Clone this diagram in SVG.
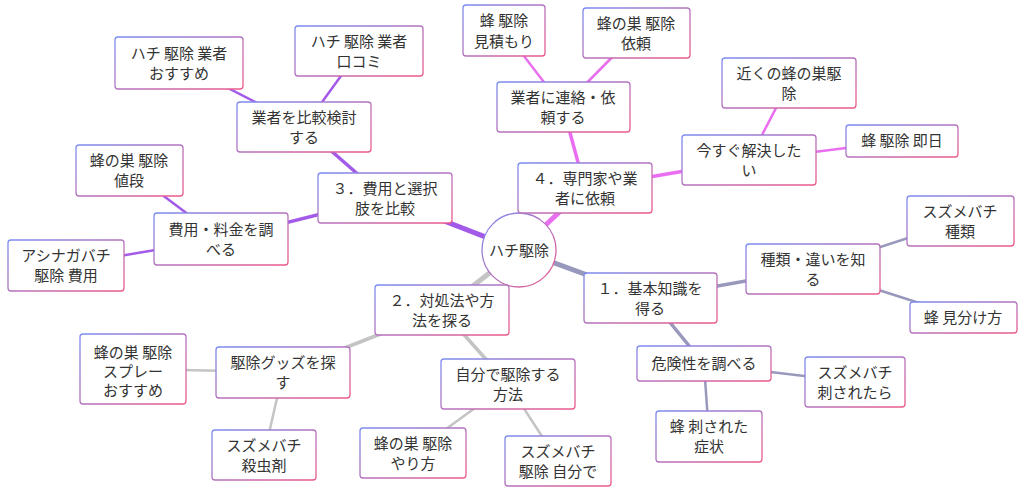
<svg xmlns="http://www.w3.org/2000/svg" width="1024" height="493" viewBox="0 0 1024 493">
<defs>
<linearGradient id="g" x1="0" y1="0" x2="1" y2="1"><stop offset="0" stop-color="#7b8cf0"/><stop offset="1" stop-color="#ec5a8c"/></linearGradient>
<style>
rect{fill:#fff;stroke:url(#g);stroke-width:1.3}
text{font-family:"Noto Sans CJK JP","Noto Sans",sans-serif;font-size:15px;fill:#333;text-anchor:middle}
.b4{stroke:#ea6ef0}.b3{stroke:#a35ae8}.b2{stroke:#c4c4c4}.b1{stroke:#9898bc}
.w1{stroke-width:5}.w2{stroke-width:3.5}.w3{stroke-width:2.5}
</style>
</defs>
<rect x="0" y="0" width="1024" height="493" style="fill:#fff;stroke:none"/>
<g id="connectors" fill="none">
<line class="b4 w1" x1="519" y1="250" x2="585" y2="188"/>
<line class="b4 w2" x1="585" y1="188" x2="563" y2="107"/>
<line class="b4 w3" x1="563" y1="107" x2="504" y2="30"/>
<line class="b4 w3" x1="563" y1="107" x2="636" y2="33"/>
<line class="b4 w2" x1="585" y1="188" x2="749" y2="160"/>
<line class="b4 w3" x1="749" y1="160" x2="789" y2="83"/>
<line class="b4 w3" x1="749" y1="160" x2="902" y2="141"/>
<line class="b3 w1" x1="519" y1="250" x2="385" y2="198"/>
<line class="b3 w2" x1="385" y1="198" x2="304" y2="127"/>
<line class="b3 w3" x1="304" y1="127" x2="179" y2="63"/>
<line class="b3 w3" x1="304" y1="127" x2="359" y2="51"/>
<line class="b3 w2" x1="385" y1="198" x2="221" y2="239"/>
<line class="b3 w3" x1="221" y1="239" x2="129" y2="170"/>
<line class="b3 w3" x1="221" y1="239" x2="66" y2="265"/>
<line class="b2 w1" x1="519" y1="250" x2="442" y2="310"/>
<line class="b2 w2" x1="442" y1="310" x2="283" y2="372"/>
<line class="b2 w3" x1="283" y1="372" x2="133" y2="369"/>
<line class="b2 w3" x1="283" y1="372" x2="264" y2="455"/>
<line class="b2 w2" x1="442" y1="310" x2="508" y2="384"/>
<line class="b2 w3" x1="508" y1="384" x2="413" y2="453"/>
<line class="b2 w3" x1="508" y1="384" x2="558" y2="461"/>
<line class="b1 w1" x1="519" y1="250" x2="650" y2="298"/>
<line class="b1 w2" x1="650" y1="298" x2="813" y2="269"/>
<line class="b1 w3" x1="813" y1="269" x2="960" y2="221"/>
<line class="b1 w3" x1="813" y1="269" x2="963" y2="317"/>
<line class="b1 w2" x1="650" y1="298" x2="704" y2="364"/>
<line class="b1 w3" x1="704" y1="364" x2="855" y2="382"/>
<line class="b1 w3" x1="704" y1="364" x2="709" y2="436"/>
</g>
<g id="root"><circle cx="519" cy="250" r="37" fill="#fff" stroke="url(#g)" stroke-width="1.3"/><text x="519" y="256">ハチ駆除</text></g>
<g id="n4"><rect x="518" y="163" width="134" height="50" rx="3"/><text x="585" y="184">４．専門家や業</text><text x="585" y="204">者に依頼</text></g>
<g id="n4a"><rect x="497" y="82" width="133" height="50" rx="3"/><text x="563" y="103">業者に連絡・依</text><text x="563" y="123">頼する</text></g>
<g id="n4a1"><rect x="463" y="5" width="82" height="51" rx="3"/><text x="504" y="26">蜂 駆除</text><text x="504" y="47">見積もり</text></g>
<g id="n4a2"><rect x="583" y="8" width="107" height="50" rx="3"/><text x="636" y="29">蜂の巣 駆除</text><text x="636" y="49">依頼</text></g>
<g id="n4b"><rect x="682" y="135" width="134" height="50" rx="3"/><text x="749" y="156">今すぐ解決した</text><text x="749" y="176">い</text></g>
<g id="n4b1"><rect x="722" y="58" width="134" height="50" rx="3"/><text x="789" y="79">近くの蜂の巣駆</text><text x="789" y="99">除</text></g>
<g id="n4b2"><rect x="846" y="125" width="112" height="32" rx="3"/><text x="902" y="146">蜂 駆除 即日</text></g>
<g id="n3"><rect x="318" y="173" width="134" height="50" rx="3"/><text x="385" y="194">３．費用と選択</text><text x="385" y="214">肢を比較</text></g>
<g id="n3a"><rect x="237" y="102" width="134" height="50" rx="3"/><text x="304" y="123">業者を比較検討</text><text x="304" y="143">する</text></g>
<g id="n3a1"><rect x="115" y="37" width="128" height="52" rx="3"/><text x="179" y="59">ハチ 駆除 業者</text><text x="179" y="79">おすすめ</text></g>
<g id="n3a2"><rect x="295" y="26" width="128" height="50" rx="3"/><text x="359" y="47">ハチ 駆除 業者</text><text x="359" y="67">口コミ</text></g>
<g id="n3b"><rect x="154" y="213" width="134" height="52" rx="3"/><text x="221" y="235">費用・料金を調</text><text x="221" y="255">べる</text></g>
<g id="n3b1"><rect x="76" y="145" width="107" height="51" rx="3"/><text x="129" y="166">蜂の巣 駆除</text><text x="129" y="186">値段</text></g>
<g id="n3b2"><rect x="8" y="240" width="116" height="51" rx="3"/><text x="66" y="261">アシナガバチ</text><text x="66" y="281">駆除 費用</text></g>
<g id="n2"><rect x="375" y="285" width="134" height="50" rx="3"/><text x="442" y="306">２．対処法や方</text><text x="442" y="326">法を探る</text></g>
<g id="n2a"><rect x="216" y="347" width="134" height="51" rx="3"/><text x="283" y="368">駆除グッズを探</text><text x="283" y="388">す</text></g>
<g id="n2a1"><rect x="80" y="334" width="106" height="70" rx="3"/><text x="133" y="358">蜂の巣 駆除</text><text x="133" y="377">スプレー</text><text x="133" y="396">おすすめ</text></g>
<g id="n2a2"><rect x="212" y="430" width="104" height="50" rx="3"/><text x="264" y="451">スズメバチ</text><text x="264" y="471">殺虫剤</text></g>
<g id="n2b"><rect x="441" y="359" width="134" height="50" rx="3"/><text x="508" y="380">自分で駆除する</text><text x="508" y="400">方法</text></g>
<g id="n2b1"><rect x="360" y="428" width="106" height="50" rx="3"/><text x="413" y="449">蜂の巣 駆除</text><text x="413" y="469">やり方</text></g>
<g id="n2b2"><rect x="505" y="436" width="106" height="50" rx="3"/><text x="558" y="457">スズメバチ</text><text x="558" y="477">駆除 自分で</text></g>
<g id="n1"><rect x="584" y="273" width="133" height="50" rx="3"/><text x="650" y="294">１．基本知識を</text><text x="650" y="314">得る</text></g>
<g id="n1a"><rect x="746" y="244" width="134" height="50" rx="3"/><text x="813" y="265">種類・違いを知</text><text x="813" y="285">る</text></g>
<g id="n1a1"><rect x="907" y="196" width="107" height="50" rx="3"/><text x="960" y="217">スズメバチ</text><text x="960" y="237">種類</text></g>
<g id="n1a2"><rect x="910" y="302" width="107" height="31" rx="3"/><text x="963" y="323">蜂 見分け方</text></g>
<g id="n1b"><rect x="637" y="346" width="134" height="35" rx="3"/><text x="704" y="369">危険性を調べる</text></g>
<g id="n1b1"><rect x="805" y="357" width="100" height="50" rx="3"/><text x="855" y="378">スズメバチ</text><text x="855" y="398">刺されたら</text></g>
<g id="n1b2"><rect x="656" y="411" width="106" height="51" rx="3"/><text x="709" y="432">蜂 刺された</text><text x="709" y="452">症状</text></g>
</svg>
